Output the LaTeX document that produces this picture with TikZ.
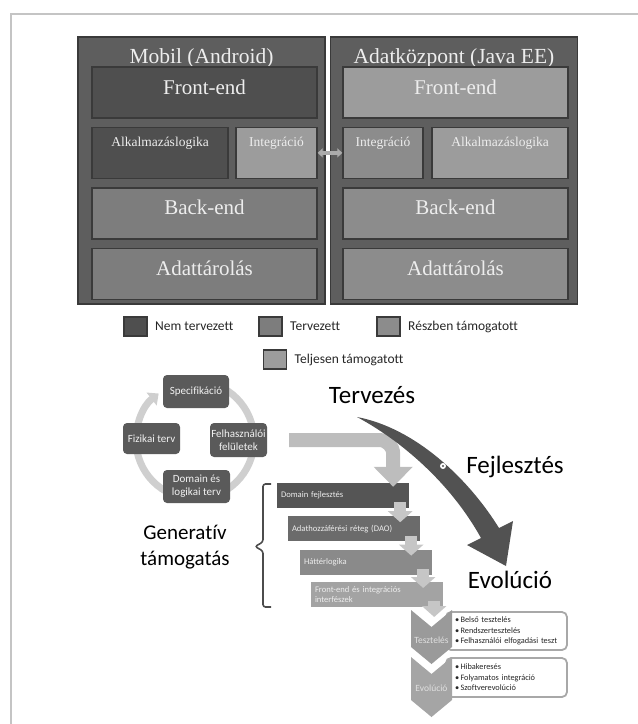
\documentclass[tikz,border=0pt]{standalone}
\usepackage{fontspec}
\setmainfont{Liberation Serif}
\newfontfamily\carlito[Ligatures=NoCommon]{Carlito}
\usepackage{tikz}
\usetikzlibrary{arrows.meta, calc, positioning}

\definecolor{nemterv}{HTML}{4F4F4F}
\definecolor{terv}{HTML}{7D7D7D}
\definecolor{reszben}{HTML}{8C8C8C}
\definecolor{teljesen}{HTML}{9C9C9C}
\definecolor{outerbox}{HTML}{5E5E5E}
\definecolor{edgedark}{HTML}{3A3A3A}
\definecolor{cycfill}{HTML}{5A5A5A}
\definecolor{ringgray}{HTML}{CFCFCF}
\definecolor{handgray}{HTML}{BDBDBD}
\definecolor{flowgray}{HTML}{C6C6C6}
\definecolor{devcol}{HTML}{525252}
\definecolor{stepa}{HTML}{555555}
\definecolor{stepb}{HTML}{6B6B6B}
\definecolor{stepc}{HTML}{8A8A8A}
\definecolor{stepd}{HTML}{A3A3A3}
\definecolor{chevA}{HTML}{9A9A9A}
\definecolor{chevB}{HTML}{A5A5A5}
\definecolor{notegray}{HTML}{A8A8A8}
\definecolor{framegray}{HTML}{C4C4C4}

\tikzset{
  platform/.style={draw=edgedark, line width=1.4pt, fill=outerbox, minimum width=247pt, minimum height=267pt,
    inner sep=0pt, text=white!93!black, font=\fontsize{21.5}{22}\selectfont, text height=15pt, text depth=230pt},
  tier/.style={draw=edgedark, line width=1.4pt, minimum width=225pt, minimum height=51pt, inner sep=0pt,
    text=white!93!black, font=\fontsize{21}{22}\selectfont, text height=15pt, text depth=12pt},
  part/.style={tier, font=\fontsize{13.5}{14}\selectfont, text height=10pt, text depth=23pt},
  link/.style={draw=gray!65, line width=3.5pt, {Triangle[width=9pt,length=5pt]}-{Triangle[width=9pt,length=5pt]}},
  legsq/.style={draw=edgedark, line width=1.3pt, minimum width=23pt, minimum height=19pt, inner sep=0pt},
  legtxt/.style={font=\carlito\fontsize{13.5}{15}\selectfont, text=black!85},
  cyc/.style={rounded corners=4pt, fill=cycfill, text=white!95!black, font=\carlito\fontsize{11}{13}\selectfont,
    align=center, inner sep=1pt},
  ring/.style={draw=ringgray, line width=7pt, -{Triangle[width=16pt,length=9pt]}},
  handoff/.style={draw=handgray, line width=14pt, rounded corners=14pt, -{Triangle[width=38pt,length=20pt]}},
  wstep/.style={fill=#1, minimum width=132pt, minimum height=25pt, text width=124pt, inner xsep=4pt, inner ysep=0pt,
    align=left, text=white!93!black, font=\carlito\fontsize{8.6}{9.5}\selectfont},
  stepflow/.style={draw=flowgray, line width=12pt, -{Triangle[width=24pt,length=11pt]}},
  phase/.style={font=\carlito\fontsize{25}{26}\selectfont, text=black, anchor=base, inner sep=0pt},
  bracket/.style={draw=black!70, line width=1.6pt, rounded corners=2.5pt},
  notes/.style={draw=notegray, line width=1.8pt, fill=white, rounded corners=5pt, minimum width=121pt,
    text width=103pt, align=left, inner sep=0pt, font=\carlito\fontsize{8.3}{10.5}\selectfont, text=black!85},
  chevtxt/.style={font=\carlito\fontsize{9.5}{11}\selectfont, text=white!88!black}
}

\begin{document}
\begin{tikzpicture}[x=1pt, y=-1pt]
    \useasboundingbox (0,0) rectangle (638,724);
    \draw[framegray, line width=1.5pt] (11,724) -- (11,14) -- (638,14);

    % Mobile platform
    \node[platform] (mobil) at (201.5,170.5) {Mobil (Android)};
    \node[tier, fill=nemterv] (mfront) at (204.5,92.5) {Front-end};
    \node[part, fill=nemterv, minimum width=136pt, below=8pt of mfront.south west, anchor=north west] (mlogic) {Alkalmazáslogika};
    \node[part, fill=teljesen, minimum width=81pt, below=8pt of mfront.south east, anchor=north east] (minteg) {Integráció};
    \node[tier, fill=terv, below=8pt of mlogic.south west, anchor=north west] (mback) {Back-end};
    \node[tier, fill=terv, below=8pt of mback] (mstore) {Adattárolás};

    % Data centre platform
    \node[platform] (adat) at (454,170.5) {Adatközpont (Java EE)};
    \node[tier, fill=teljesen] (afront) at (455.5,92.5) {Front-end};
    \node[part, fill=reszben, minimum width=80pt, below=8pt of afront.south west, anchor=north west] (ainteg) {Integráció};
    \node[part, fill=teljesen, minimum width=136pt, below=8pt of afront.south east, anchor=north east] (alogic) {Alkalmazáslogika};
    \node[tier, fill=reszben, below=8pt of ainteg.south west, anchor=north west] (aback) {Back-end};
    \node[tier, fill=reszben, below=8pt of aback] (astore) {Adattárolás};

    \draw[link] (minteg.east) -- (ainteg.west);

    % Legend
    \node[legsq, fill=nemterv] (lnem) at (135.5,326.5) {};
    \node[legtxt, right=4pt of lnem] (lnemt) {Nem tervezett};
    \node[legsq, fill=terv] (lterv) at (270.5,326.5) {};
    \node[legtxt, right=4pt of lterv] (ltervt) {Tervezett};
    \node[legsq, fill=reszben] (lresz) at (388.5,326.5) {};
    \node[legtxt, right=4pt of lresz] (lreszt) {Részben támogatott};
    \node[legsq, fill=teljesen] (ltelj) at (275,359.5) {};
    \node[legtxt, right=4pt of ltelj] (lteljt) {Teljesen támogatott};

    % Design cycle
    \coordinate (ringc) at (195,440);
    \draw[ring] (ringc) ++(265:59) arc[start angle=265, end angle=592, radius=59];
    \node[cyc, minimum width=66pt, minimum height=33pt] (spec) at (196,391.5) {Specifikáció};
    \node[cyc, minimum width=57pt, minimum height=34pt] (felh) at (238.5,440) {Felhasználói\\felületek};
    \node[cyc, minimum width=67pt, minimum height=33pt] (dlog) at (196.5,486.5) {Domain és\\logikai terv};
    \node[cyc, minimum width=57pt, minimum height=31pt] (fiz) at (151.5,438.5) {Fizikai terv};

    % Generated steps
    \node[wstep=stepa] (s1) at (343,495.5) {Domain fejlesztés};
    \node[wstep=stepb, below=8pt of s1.south west, anchor=north west, xshift=11pt] (s2) {Adathozzáférési réteg (DAO)};
    \node[wstep=stepc, below=8pt of s2.south west, anchor=north west, xshift=12pt] (s3) {Háttérlogika};
    \node[wstep=stepd, below=7pt of s3.south west, anchor=north west, xshift=11pt] (s4) {Front-end és integrációs\\interfészek};
    \coordinate (teszttop) at (431.5,610);

    \draw[handoff] ($(felh.east)+(22,0)$) -| ($(s1.north east)+(-16,4)$);
    \draw[stepflow] ($(s1.south east)+(-9,-6)$) -- ($(s1.south east |- s2.north)+(-9,6)$);
    \draw[stepflow] ($(s2.south east)+(-9,-6)$) -- ($(s2.south east |- s3.north)+(-9,6)$);
    \draw[stepflow] ($(s3.south east)+(-9,-6)$) -- ($(s3.south east |- s4.north)+(-9,6)$);
    \draw[stepflow] ($(s4.south east)+(-9,-6)$) -- ($(s4.south east |- teszttop)+(-9,7)$);

    \draw[bracket] (271,484) -- (263,484) -- (263,542) -- (255,546.5) -- (263,551) -- (263,607) -- (271,607);
    \node[font=\carlito\fontsize{21}{26}\selectfont, align=center] (gen) at (185,547) {Generatív\\támogatás};

    % Phases
    \fill[devcol] (357,417) .. controls (415,428) and (468,478) .. (499,528) -- (513,521) -- (506,566) -- (467,545)
        -- (481,538) .. controls (450,482) and (400,440) .. (357,417) -- cycle;
    \fill[white] (443,466) circle (3pt);
    \fill[devcol] (443,466) circle (1.2pt);
    \node[phase] (tervezes) at (372,403) {Tervezés};
    \node[phase] (fejl) at (515,473) {Fejlesztés};
    \node[phase] (evol) at (510,588) {Evolúció};

    % Testing and evolution
    \node[notes, minimum height=38pt] (tnotes) at (506.5,631) {•\,Belső tesztelés\\•\,Rendszertesztelés\\•\,Felhasználói elfogadási teszt};
    \node[notes, minimum height=39pt] (enotes) at (506.5,677.5) {•\,Hibakeresés\\•\,Folyamatos integráció\\•\,Szoftverevolúció};
    \fill[chevA] (411,610) -- (431.5,627) -- (452,610) -- (452,647) -- (431.5,664) -- (411,647) -- cycle;
    \fill[chevB] (411,657) -- (431.5,674) -- (452,657) -- (452,700) -- (431.5,717) -- (411,700) -- cycle;
    \node[chevtxt] (ctest) at (431.5,640) {Tesztelés};
    \node[chevtxt] (cevol) at (431.5,688) {Evolúció};

\end{tikzpicture}
\end{document}
